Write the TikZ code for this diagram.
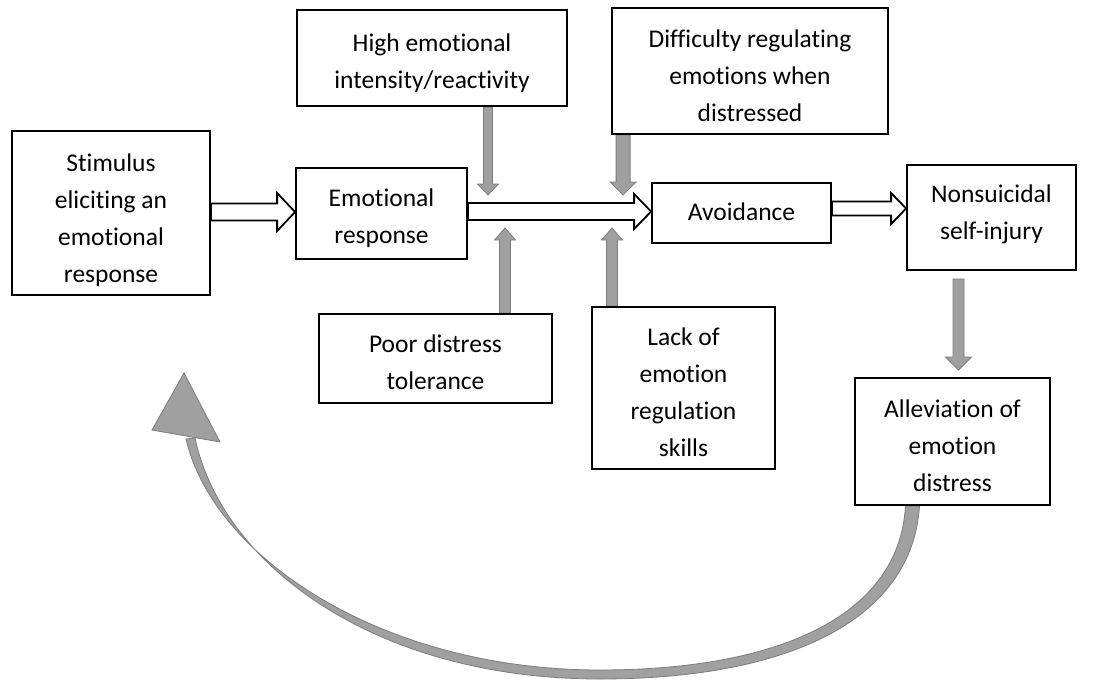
\documentclass[tikz,border=0pt]{standalone}
\usepackage{fontspec}
\setmainfont{Carlito}[Ligatures={NoCommon}]
\usetikzlibrary{calc,backgrounds}
\definecolor{garrfill}{RGB}{160,160,160}
\definecolor{garredge}{RGB}{125,125,125}
\tikzset{
  box/.style={draw=black, line width=1.8pt, fill=white, inner sep=0pt},
  txt/.style={inner sep=0pt, align=center, font=\fontsize{25.5}{37}\selectfont},
  garr/.style={fill=garrfill, draw=garredge, line width=0.8pt, line join=miter},
  harr/.style={fill=white, draw=black, line width=1.8pt, line join=miter},
}
% style, start, end, half shaft, half head, head length
\newcommand\blockarrow[6]{%
  \coordinate (hb) at ($(#3)!#6!(#2)$);
  \filldraw[#1] ($(#2)!#4!-90:(#3)$) -- ($(hb)!#4!-90:(#3)$) -- ($(hb)!#5!-90:(#3)$)
    -- (#3) -- ($(hb)!#5!90:(#3)$) -- ($(hb)!#4!90:(#3)$) -- ($(#2)!#4!90:(#3)$) -- cycle;
}
% name, center, width, height, text shift, text
\newcommand\tbox[6]{%
  \node[box, minimum width=#3, minimum height=#4] (#1) at (#2) {};
  \node[txt] (#1-t) at ($(#1.center)+(0,#5)$) {#6};
}
\begin{document}
\begin{tikzpicture}[x=1pt,y=-1pt]
\useasboundingbox (0,0) rectangle (1097,682);

\tbox{stim}{111,213}{198pt}{164pt}{7}{Stimulus\\eliciting an\\emotional\\response}
\tbox{er}{381.5,213.5}{171pt}{91pt}{5}{Emotional\\response}
\tbox{hi}{432,58}{270pt}{96pt}{5}{High emotional\\intensity/reactivity}
\tbox{dif}{750,71}{276pt}{126pt}{4.5}{Difficulty regulating\\emotions when\\distressed}
\tbox{av}{741.5,213}{179pt}{60pt}{-1}{Avoidance}
\tbox{nsi}{991.5,217.5}{169pt}{105pt}{-3}{Nonsuicidal\\self-injury}
\tbox{poor}{435.5,358.5}{233pt}{89pt}{3.5}{Poor distress\\tolerance}
\tbox{lack}{683.5,388}{183pt}{162pt}{4.5}{Lack of\\emotion\\regulation\\skills}
\tbox{alle}{952.5,441.5}{195pt}{127pt}{4}{Alleviation of\\emotion\\distress}

\begin{scope}[on background layer]
  \fill[white] (0,0) rectangle (1097,682);
  % hollow arrows
  \coordinate (a1s) at (stim.east |- 0,212);
  \coordinate (a1e) at (a1s -| er.west);
  \blockarrow{harr}{a1s}{a1e}{8.5pt}{19pt}{18pt}
  \coordinate (a2s) at (er.east |- 0,211.5);
  \coordinate (a2e) at (a2s -| av.west);
  \blockarrow{harr}{a2s}{a2e}{8.5pt}{17.5pt}{17pt}
  \coordinate (a3s) at (av.east |- 0,208.5);
  \coordinate (a3e) at (a3s -| nsi.west);
  \blockarrow{harr}{a3s}{a3e}{7pt}{15.5pt}{15pt}
  % grey arrows
  \coordinate (g1s) at ($(hi.south)+(56,0)$);
  \coordinate (g1e) at (g1s |- 0,195);
  \blockarrow{garr}{g1s}{g1e}{4.5pt}{10.5pt}{11pt}
  \coordinate (g2s) at ($(dif.south west)+(12,0)$);
  \coordinate (g2e) at (g2s |- 0,195);
  \blockarrow{garr}{g2s}{g2e}{7pt}{13pt}{13pt}
  \coordinate (g3s) at ($(poor.north)+(69.5,0)$);
  \coordinate (g3e) at (g3s |- 0,228);
  \blockarrow{garr}{g3s}{g3e}{5.5pt}{10.5pt}{12pt}
  \coordinate (g4s) at ($(lack.north)+(-71.5,0)$);
  \coordinate (g4e) at (g4s |- 0,228);
  \blockarrow{garr}{g4s}{g4e}{5.5pt}{10.5pt}{12pt}
  \coordinate (g5s) at ($(nsi.south)+(-33,8)$);
  \coordinate (g5e) at (g5s |- 0,370);
  \blockarrow{garr}{g5s}{g5e}{5.5pt}{13pt}{13pt}
  % big curved arrow
  \coordinate (cs) at ($(alle.south)+(-40,0)$);
  \coordinate (ce) at (184,373);
  \filldraw[garr] ($(cs)+(7,0)$) .. controls (912,622) and (785,679) .. (600,679)
     .. controls (375,679) and (222,565) .. (195,438)
     -- (186,439) .. controls (213,556) and (380,670) .. (600,670)
     .. controls (775,670) and (899,618) .. ($(cs)+(-7,0)$) -- cycle;
  \filldraw[garr] (152,430) -- (ce) -- (220,442) -- cycle;
\end{scope}
\end{tikzpicture}
\end{document}
